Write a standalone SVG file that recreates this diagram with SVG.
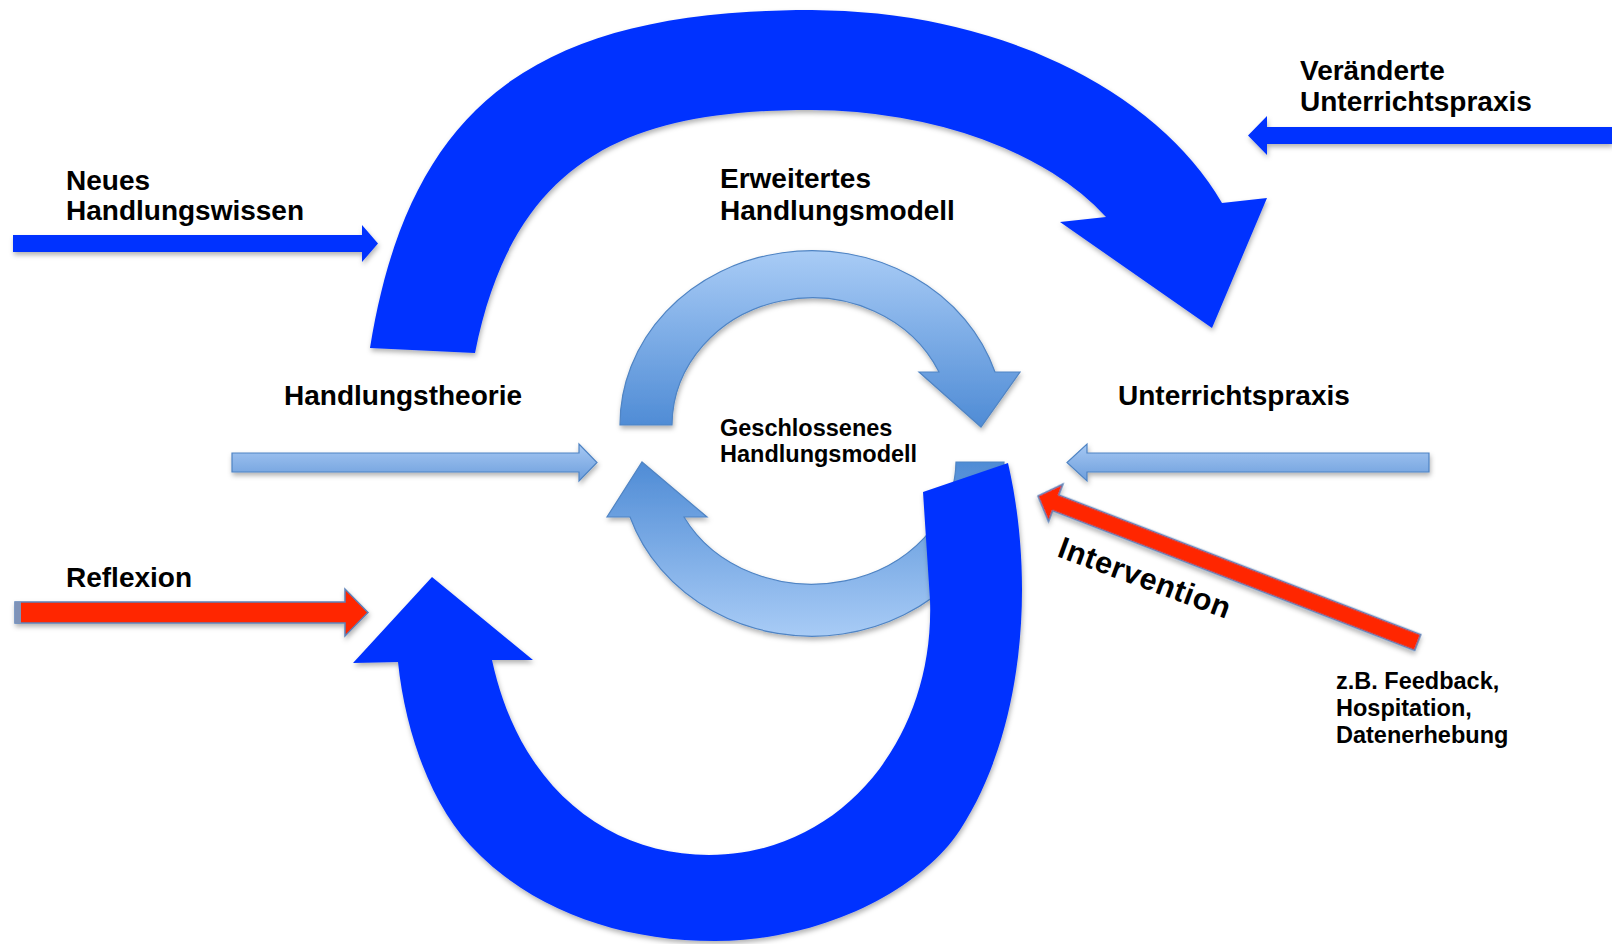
<svg xmlns="http://www.w3.org/2000/svg" width="1612" height="944" viewBox="0 0 1612 944">
<style>
.lbl{font-family:"Liberation Sans",Arial,Helvetica,sans-serif;font-weight:bold;fill:#000;}
.big{font-size:28px;}
.small{font-size:23.5px;}
.dark{fill:#0433FF;}
.light{stroke:#4F84C4;stroke-width:1.2;}
.red{fill:#FF2600;stroke:#5E82B8;stroke-width:1.5;}
</style>
<defs>
<filter id="sh" x="-10%" y="-10%" width="120%" height="130%">
<feDropShadow dx="1" dy="3" stdDeviation="2.5" flood-color="#000" flood-opacity="0.3"/>
</filter>
<linearGradient id="gUp" gradientUnits="userSpaceOnUse" x1="0" y1="250" x2="0" y2="428">
<stop offset="0" stop-color="#A9CCF6"/><stop offset="1" stop-color="#4E8BD5"/>
</linearGradient>
<linearGradient id="gDown" gradientUnits="userSpaceOnUse" x1="0" y1="460" x2="0" y2="638">
<stop offset="0" stop-color="#4E8BD5"/><stop offset="1" stop-color="#A9CCF6"/>
</linearGradient>
<linearGradient id="gBar" x1="0" y1="0" x2="0" y2="1">
<stop offset="0" stop-color="#A6C8F3"/><stop offset="1" stop-color="#6D9EDC"/>
</linearGradient>
</defs>
<rect width="1612" height="944" fill="#fff"/>

<g id="connectors">
<g id="arc-top" filter="url(#sh)">
<path class="dark" d="M370,348 C410,100 540,10 812,10 A444,310 0 0 1 1222,203 L1267,198 L1212,328 L1060,222 L1106,217 A341,210 0 0 0 812,110 C640,110 515,150 475,353 Z"/>
</g>
<g id="arc-light-up" filter="url(#sh)">
<path class="light" fill="url(#gUp)" d="M620,425 A192,174 0 0 1 995,372 L1020,372 L981,427 L919,372 L939,372 A140,128 0 0 0 672,425 Z"/>
</g>
<g id="arc-light-down" filter="url(#sh)">
<path class="light" fill="url(#gDown)" d="M1004,462 A192,175 0 0 1 630,517 L607,517 L642,462 L707,517 L684,517 A144,124 0 0 0 956,462 Z"/>
</g>
<g id="arc-bottom" filter="url(#sh)">
<path class="dark" d="M1008,463 C1035,580 1025,730 960,830 C920,891 820,941 715,941 C620,941 530,910 470,845 C430,802 405,730 398,662 L353,663 L432,577 L533,660 L492,660 C520,790 610,855 709,855 C840,855 935,740 930,600 L923,492 Z"/>
</g>
<g id="arrow-neues" filter="url(#sh)">
<path class="dark" d="M13,235 L362,235 L362,225 L378,243.5 L362,262 L362,252 L13,252 Z"/>
</g>
<g id="arrow-veraenderte" filter="url(#sh)">
<path class="dark" d="M1612,127 L1267,127 L1267,116 L1248,135.5 L1267,155 L1267,144 L1612,144 Z"/>
</g>
<g id="arrow-theorie" filter="url(#sh)">
<path class="light" fill="url(#gBar)" d="M232,453 L579,453 L579,444 L597,462.5 L579,481 L579,472 L232,472 Z"/>
</g>
<g id="arrow-praxis" filter="url(#sh)">
<path class="light" fill="url(#gBar)" d="M1429,453 L1087,453 L1087,444 L1067,462.5 L1087,481 L1087,472 L1429,472 Z"/>
</g>
<g id="arrow-reflexion" filter="url(#sh)">
<path class="red" d="M15,602 L345,602 L345,589 L368,612.5 L345,636 L345,623 L15,623 Z"/>
<rect x="15" y="602" width="6" height="21" fill="#7F93B8"/>
</g>
<g id="arrow-intervention" filter="url(#sh)" transform="translate(1038,496) rotate(21.1)">
<path class="red" d="M0,0 L19,-20 L19,-8.5 L407,-8.5 L407,8.5 L19,8.5 L19,20 Z"/>
</g>
</g>

<g id="label-neues"><text class="lbl big" x="66" y="190">Neues</text><text class="lbl big" x="66" y="220">Handlungswissen</text></g>
<g id="label-veraenderte"><text class="lbl big" x="1300" y="80">Veränderte</text><text class="lbl big" x="1300" y="111">Unterrichtspraxis</text></g>
<g id="label-erweitertes"><text class="lbl big" x="720" y="188">Erweitertes</text><text class="lbl big" x="720" y="220">Handlungsmodell</text></g>
<g id="label-theorie"><text class="lbl big" x="284" y="405">Handlungstheorie</text></g>
<g id="label-praxis"><text class="lbl big" x="1118" y="405">Unterrichtspraxis</text></g>
<g id="label-geschlossenes"><text class="lbl small" x="720" y="436">Geschlossenes</text><text class="lbl small" x="720" y="462">Handlungsmodell</text></g>
<g id="label-reflexion"><text class="lbl big" x="66" y="587">Reflexion</text></g>
<g id="label-intervention"><text class="lbl" font-size="30.5" letter-spacing="0.6" transform="translate(1056,556) rotate(20.3)">Intervention</text></g>
<g id="label-feedback"><text class="lbl small" x="1336" y="689">z.B. Feedback,</text><text class="lbl small" x="1336" y="716">Hospitation,</text><text class="lbl small" x="1336" y="743">Datenerhebung</text></g>
</svg>
